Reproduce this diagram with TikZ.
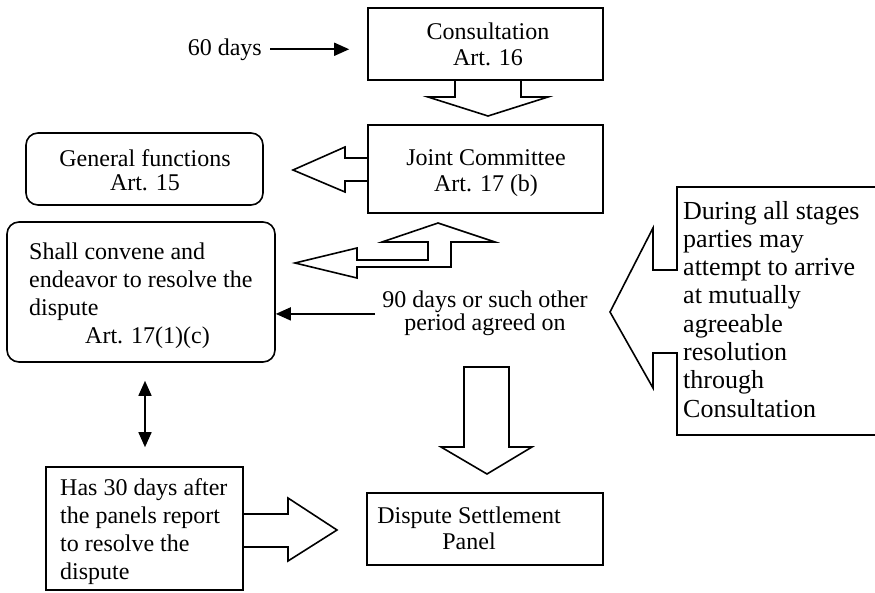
\documentclass[tikz,border=0pt]{standalone}
\usepackage{fontspec}
\setmainfont{Liberation Serif}
\usetikzlibrary{arrows.meta,calc}
\newcommand\txc[1]{\begin{tabular}[t]{@{}c@{}}#1\end{tabular}}
\newcommand\txl[1]{\begin{tabular}[t]{@{}l@{}}#1\end{tabular}}
\begin{document}
\begin{tikzpicture}[x=1pt,y=-1pt,
  box/.style={draw, line width=1.6pt, inner sep=0pt},
  rbox/.style={box, rounded corners=12pt},
  blk/.style={draw, line width=1.6pt, line join=miter},
  txt/.style={inner sep=0pt, font=\fontsize{24}{28}\selectfont},
  ctxt/.style={inner sep=0pt, font=\fontsize{26}{28.3}\selectfont},
  arr/.style={line width=1.6pt, -{Triangle[length=15pt,width=13pt]}},
  dbl/.style={line width=1.6pt, {Triangle[length=15pt,width=13pt]}-{Triangle[length=15pt,width=13pt]}},
]
\useasboundingbox (0,0) rectangle (875,592);

% boxes
\node[box, minimum width=235pt, minimum height=72pt] (cons) at (485.5,44) {};
\node[box, minimum width=235pt, minimum height=88pt] (jc) at (485.5,169) {};
\node[rbox, minimum width=237pt, minimum height=72pt] (gf) at (144.5,169) {};
\node[rbox, minimum width=268pt, minimum height=140pt] (shall) at (141,292) {};
\node[box, minimum width=197pt, minimum height=123pt] (has) at (144.5,528.5) {};
\node[box, minimum width=236pt, minimum height=72pt] (dsp) at (485,529) {};

% texts
\node[txt, anchor=base, font=\fontsize{24}{26}\selectfont] (cons-t) at (488,39) {\txc{Consultation\\Art. 16}};
\node[txt, anchor=base, font=\fontsize{24}{26}\selectfont] (jc-t) at (486,165) {\txc{Joint Committee\\Art. 17 (b)}};
\node[txt, anchor=base, font=\fontsize{24}{24}\selectfont] (gf-t) at (145,166) {\txc{General functions\\Art. 15}};
\node[txt, anchor=base west] (shall-t) at (29,259) {\txl{Shall convene and\\endeavor to resolve the\\dispute\\\hspace*{56pt}Art. 17(1)(c)}};
\node[txt, anchor=base west] (has-t) at (60,495) {\txl{Has 30 days after\\the panels report\\to resolve the\\dispute}};
\node[txt, anchor=base, font=\fontsize{24}{26}\selectfont] (dsp-t) at (469,523) {\txc{Dispute Settlement\\Panel}};
\node[txt, anchor=base, font=\fontsize{24}{23}\selectfont] (d90) at (485,307) {\txc{90 days or such other\\period agreed on}};
\node[txt, anchor=base east] (d60) at (262,55) {60 days};
\node[ctxt, anchor=base west] (cal-t) at (683,219) {\txl{During all stages\\parties may\\attempt to arrive\\at mutually\\agreeable\\resolution\\through\\Consultation}};

% thin arrows
\draw[arr, shorten <=8pt, shorten >=18pt] (d60.east) -- (d60.east -| cons.west);
\draw[arr, shorten <=7pt] (d90.west) -- (d90.west -| shall.east);
\draw[dbl] ($(shall.south)+(4,18)$) -- ($(has.north)+(0.5,-19)$);

% block arrows
\draw[blk] (455,80) -- (455,97) -- (428,97) -- (488,116) -- (548,97) -- (521,97) -- (521,80);
\draw[blk] (368,158) -- (345,158) -- (345,147) -- (293,170) -- (345,192) -- (345,181) -- (368,181);
\draw[blk] (295,263) -- (357,248) -- (357,260) -- (428,260) -- (428,242) -- (382,242) -- (438,223)
  -- (495,242) -- (451,242) -- (451,267) -- (357,267) -- (357,278) -- cycle;
\draw[blk] (464,367) -- (509,367) -- (509,447) -- (532,447) -- (487,474) -- (441,447) -- (464,447) -- cycle;
\draw[blk] (243,514) -- (288,514) -- (288,498) -- (337,530) -- (288,561) -- (288,547) -- (243,547);

% callout
\draw[blk] (885,187) -- (677,187) -- (677,270) -- (653,270) -- (653,228) -- (610,312) -- (653,388)
  -- (653,353) -- (677,353) -- (677,435) -- (885,435);
\end{tikzpicture}
\end{document}
